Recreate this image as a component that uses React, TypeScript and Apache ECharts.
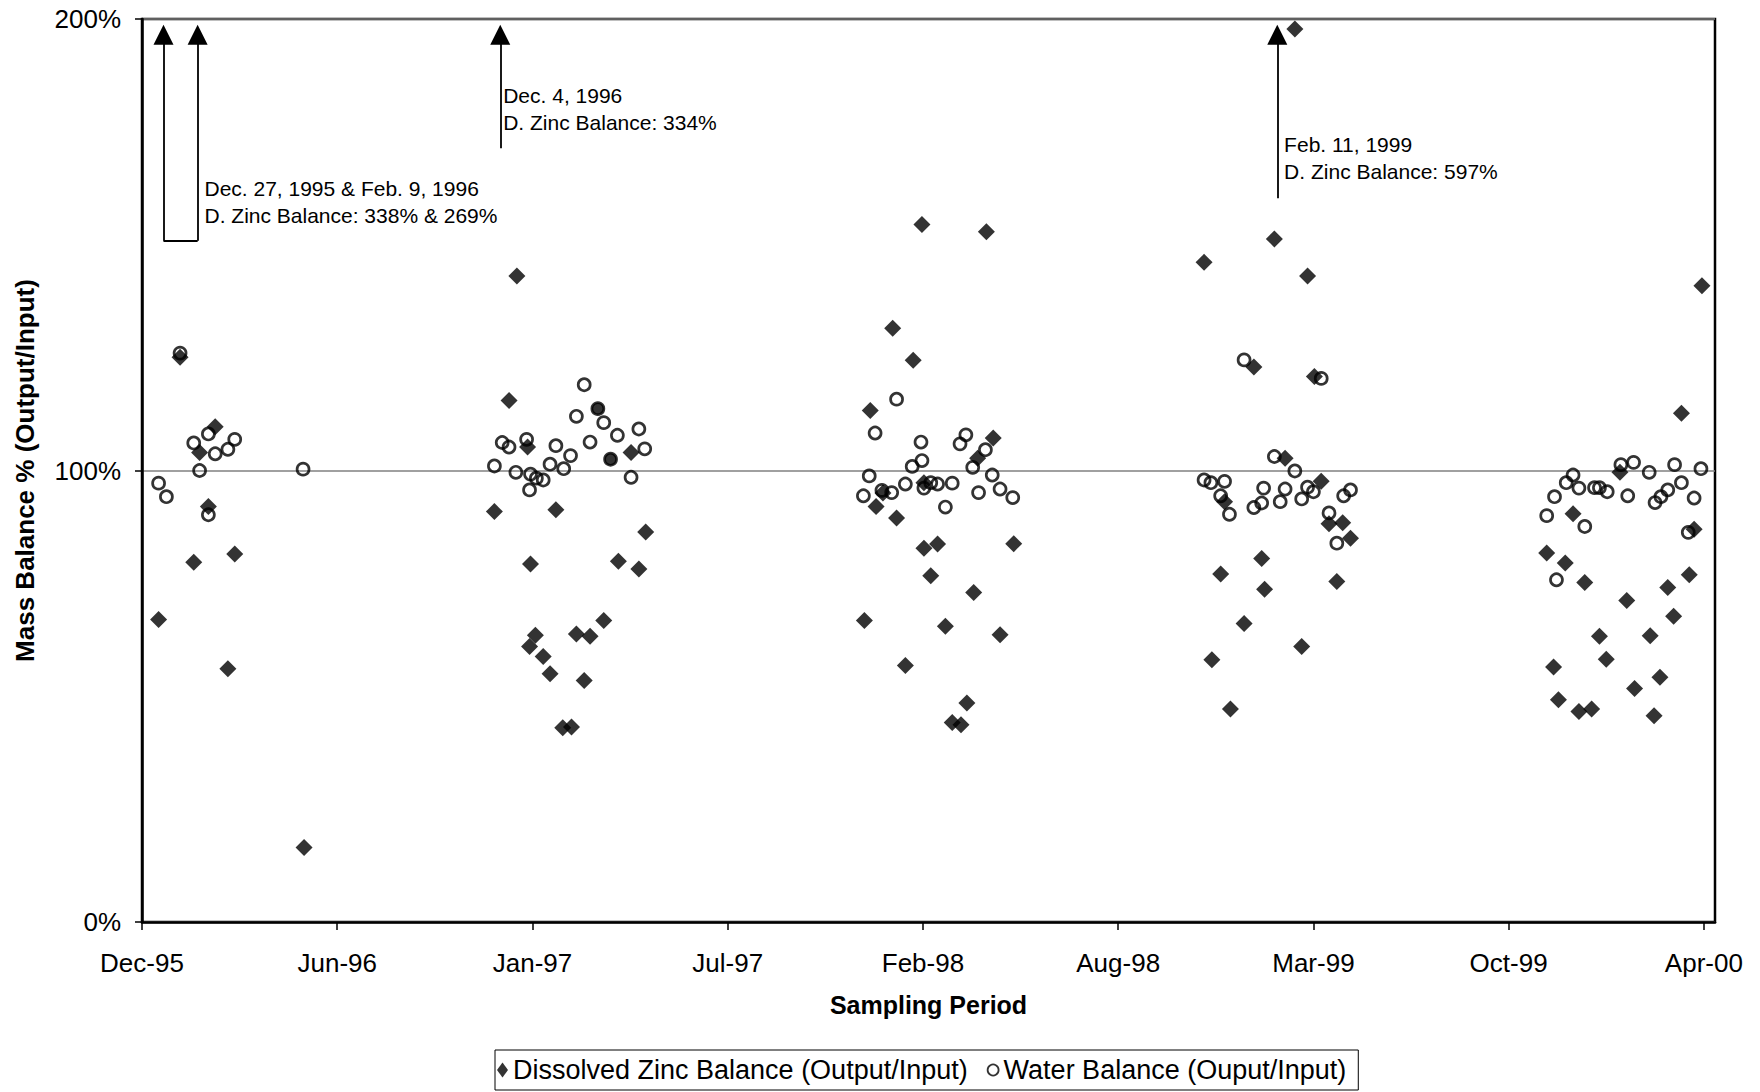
import { useEffect, useRef } from "react";
import * as echarts from "echarts";

// X values are days after the axis origin (5 Dec 1995); ticks every 200 days, axis runs a little past the last tick.
const xTickValues = [0, 200, 400, 600, 800, 1000, 1200, 1400, 1600];
const xTickLabels = ["Dec-95", "Jun-96", "Jan-97", "Jul-97", "Feb-98", "Aug-98", "Mar-99", "Oct-99", "Apr-00"];
const xAxisMax = 1611.4;

const zincName = "Dissolved Zinc Balance (Output/Input)";
const waterName = "Water Balance (Ouput/Input)";

const zincDays = [
  17, 39, 53, 59, 68, 75, 88, 95, 166,
  361, 376, 384, 395, 397, 398, 403, 411, 418, 424, 431, 440, 445, 453, 459, 473, 488, 501, 509, 516,
  740, 746, 752, 759, 769, 773, 782, 790, 799, 801, 801, 808, 815, 823, 830, 839, 845, 852, 856, 865, 872, 879, 893,
  1088, 1096, 1105, 1109, 1115, 1129, 1139, 1147, 1150, 1160, 1171, 1181, 1188, 1194, 1201, 1208, 1216, 1224, 1230, 1238,
  1439, 1446, 1451, 1458, 1466, 1472, 1478, 1485, 1493, 1500, 1514, 1521, 1529, 1545, 1549, 1555, 1563, 1569, 1577, 1585, 1590, 1598,
];
const zincValues = [
  67.0, 125.1, 79.7, 104.0, 92.0, 109.7, 56.1, 81.5, 16.5,
  90.9, 115.5, 143.1, 105.2, 61.0, 79.3, 63.5, 58.8, 55.0, 91.3, 43.0, 43.2, 63.8, 53.5, 63.3, 66.8, 79.9, 104.0, 78.2, 86.4,
  66.8, 113.3, 92.0, 95.0, 131.5, 89.5, 56.8, 124.4, 154.5, 97.3, 82.8, 76.7, 83.7, 65.5, 44.2, 43.7, 48.5, 73.0, 102.7, 152.9, 107.2, 63.6, 83.8,
  146.1, 58.1, 77.1, 93.1, 47.2, 66.1, 122.9, 80.5, 73.7, 151.3, 102.7, 197.8, 61.0, 143.1, 120.8, 97.6, 88.2, 75.4, 88.4, 85.0,
  81.7, 56.5, 49.2, 79.5, 90.4, 46.6, 75.2, 47.2, 63.3, 58.2, 99.6, 71.2, 51.7, 63.4, 45.7, 54.2, 74.1, 67.7, 112.7, 76.9, 87.0, 140.9,
];

const waterDays = [
  17, 25, 39, 53, 59, 68, 68, 75, 88, 95, 165,
  361, 369, 376, 383, 394, 397, 398, 404, 411, 418, 424, 432, 439, 445, 453, 459, 473, 487, 501, 509, 515,
  739, 745, 751, 758, 768, 773, 782, 789, 798, 799, 801, 808, 815, 823, 830, 838, 844, 851, 857, 864, 871, 879, 892,
  1088, 1095, 1105, 1109, 1114, 1129, 1139, 1147, 1149, 1160, 1166, 1171, 1181, 1188, 1194, 1200, 1208, 1216, 1224, 1231, 1238,
  1439, 1447, 1449, 1459, 1466, 1472, 1478, 1488, 1493, 1501, 1515, 1522, 1528, 1544, 1550, 1556, 1563, 1570, 1577, 1584, 1590, 1597,
];
const waterValues = [
  97.2, 94.2, 126.0, 106.1, 100.0, 108.1, 90.2, 103.7, 104.7, 106.9, 100.3,
  101.0, 106.2, 105.2, 99.6, 106.9, 95.7, 99.2, 98.3, 97.9, 101.4, 105.5, 100.4, 103.3, 112.0, 119.0, 106.3, 110.6, 107.8, 98.5, 109.2, 104.8,
  94.4, 98.8, 108.3, 95.6, 95.1, 115.8, 97.0, 100.9, 106.3, 102.2, 96.1, 97.3, 97.0, 91.9, 97.2, 105.9, 107.9, 100.7, 95.1, 104.6, 99.0, 95.9, 94.0,
  97.9, 97.3, 94.4, 97.6, 90.3, 124.5, 91.8, 92.8, 96.1, 103.1, 93.1, 95.9, 99.9, 93.7, 96.3, 95.3, 120.4, 90.6, 83.9, 94.4, 95.7,
  90.0, 94.2, 75.8, 97.3, 99.0, 96.1, 87.6, 96.2, 96.2, 95.3, 101.3, 94.4, 101.8, 99.6, 92.9, 94.2, 95.7, 101.3, 97.3, 86.3, 93.9, 100.4,
];
// water-balance samples drawn with a solid marker
const waterFilledDays = [467, 480];
const waterFilledValues = [113.7, 102.5];

// off-scale dissolved zinc samples (arrows): day, arrow foot value
const arrowDays = [22, 57, 367, 1163];
const arrowFootValues = [150.9, 150.9, 171.4, 160.3];
const arrowHeadValue = 196.5;

const annotations = [
  { day: 64, value: 159.4, lines: ["Dec. 27, 1995 & Feb. 9, 1996", "D. Zinc Balance: 338% & 269%"] },
  { day: 370, value: 180.1, lines: ["Dec. 4, 1996", "D. Zinc Balance: 334%"] },
  { day: 1170, value: 169.2, lines: ["Feb. 11, 1999", "D. Zinc Balance: 597%"] },
];

const FONT = "'Liberation Sans', Arial, sans-serif";

export default function App() {
  const ref = useRef<HTMLDivElement>(null);

  useEffect(() => {
    if (!ref.current) return;
    const chart = echarts.init(ref.current, null, { renderer: "svg" });

    const zincData = zincDays.map((d, i) => [d, zincValues[i]]);
    const waterData: any[] = waterDays.map((d, i) => [d, waterValues[i]]);
    waterFilledDays.forEach((d, i) => {
      waterData.push({ value: [d, waterFilledValues[i]], itemStyle: { color: "#000" } });
    });

    const arrowLines: any[] = arrowDays.map((d, i) => [
      { coord: [d, arrowFootValues[i]], symbol: "none" },
      { coord: [d, arrowHeadValue], symbol: "triangle", symbolSize: [20, 20] },
    ]);
    // connector joining the first two arrows
    arrowLines.push([
      { coord: [arrowDays[0], arrowFootValues[0]], symbol: "none" },
      { coord: [arrowDays[1], arrowFootValues[1]], symbol: "none" },
    ]);

    chart.setOption({
      animation: false,
      backgroundColor: "#fff",
      textStyle: { fontFamily: FONT },
      grid: {
        left: 142,
        right: 45,
        top: 19,
        bottom: 170,
        show: true,
        borderColor: "#000",
        borderWidth: 2.5,
        outerBoundsMode: "none",
        containLabel: false,
      },
      legend: {
        left: 495,
        top: 1050,
        orient: "horizontal",
        padding: [4, 12, 4, 2],
        itemGap: 19,
        itemWidth: 11,
        itemHeight: 15,
        borderColor: "#000",
        borderWidth: 1,
        selectedMode: false,
        textStyle: { fontSize: 27, color: "#000", fontFamily: FONT, lineHeight: 32 },
        data: [
          { name: zincName, icon: "diamond" },
          { name: waterName, icon: "circle", itemStyle: { borderWidth: 1.8, color: "rgba(0,0,0,0)", borderColor: "#000" } },
        ],
      },
      xAxis: {
        type: "value",
        min: 0,
        max: xAxisMax,
        interval: 200,
        name: "Sampling Period",
        nameLocation: "middle",
        nameGap: 70,
        nameTextStyle: { fontSize: 25, fontWeight: "bold", color: "#000", fontFamily: FONT },
        axisLine: { show: true, onZero: false, lineStyle: { color: "#000", width: 2.5 } },
        axisTick: { show: true, length: 8, customValues: xTickValues, lineStyle: { color: "#000", width: 1.5 } },
        splitLine: { show: false },
        axisLabel: {
          fontSize: 26,
          color: "#000",
          margin: 28,
          fontFamily: FONT,
          customValues: xTickValues,
          formatter: (v: number) => {
            const i = xTickValues.indexOf(Math.round(v));
            return i >= 0 ? xTickLabels[i] : "";
          },
        },
      },
      yAxis: {
        type: "value",
        min: 0,
        max: 200,
        interval: 100,
        name: "Mass Balance % (Output/Input)",
        nameLocation: "middle",
        nameGap: 104,
        nameRotate: 90,
        nameTextStyle: { fontSize: 26, fontWeight: "bold", color: "#000", fontFamily: FONT },
        axisLine: { show: true, lineStyle: { color: "#000", width: 2.5 } },
        axisTick: { show: true, length: 7, lineStyle: { color: "#000", width: 1.5 } },
        splitLine: { show: true, lineStyle: { color: "#808080", width: 1.6 } },
        axisLabel: { fontSize: 26, color: "#000", margin: 21, fontFamily: FONT, formatter: "{value}%" },
      },
      series: [
        {
          name: zincName,
          type: "scatter",
          symbol: "diamond",
          symbolSize: 17,
          itemStyle: { color: "#000" },
          emphasis: { disabled: true },
          data: zincData,
          markLine: {
            silent: true,
            animation: false,
            symbol: ["none", "none"],
            label: { show: false },
            lineStyle: { color: "#000", width: 1.8, type: "solid" },
            emphasis: { disabled: true },
            data: arrowLines,
          },
        },
        {
          name: waterName,
          type: "scatter",
          symbol: "circle",
          symbolSize: 12,
          itemStyle: { color: "rgba(0,0,0,0)", borderColor: "#000", borderWidth: 2.7 },
          emphasis: { disabled: true },
          data: waterData,
        },
      ],
    });

    const graphics = annotations.map((a) => {
      const p = chart.convertToPixel({ gridIndex: 0 }, [a.day, a.value]) as number[];
      return {
        type: "text",
        x: p[0],
        y: p[1],
        silent: true,
        style: {
          text: a.lines.join("\n"),
          fill: "#000",
          fontSize: 21,
          fontFamily: FONT,
          lineHeight: 26.8,
          align: "left",
          verticalAlign: "middle",
        },
      };
    });
    chart.setOption({ graphic: graphics });

    return () => chart.dispose();
  }, []);

  return (
    <div
      ref={ref}
      style={{ position: "fixed", left: 0, top: 0, width: 1760, height: 1092, background: "#fff" }}
    />
  );
}
